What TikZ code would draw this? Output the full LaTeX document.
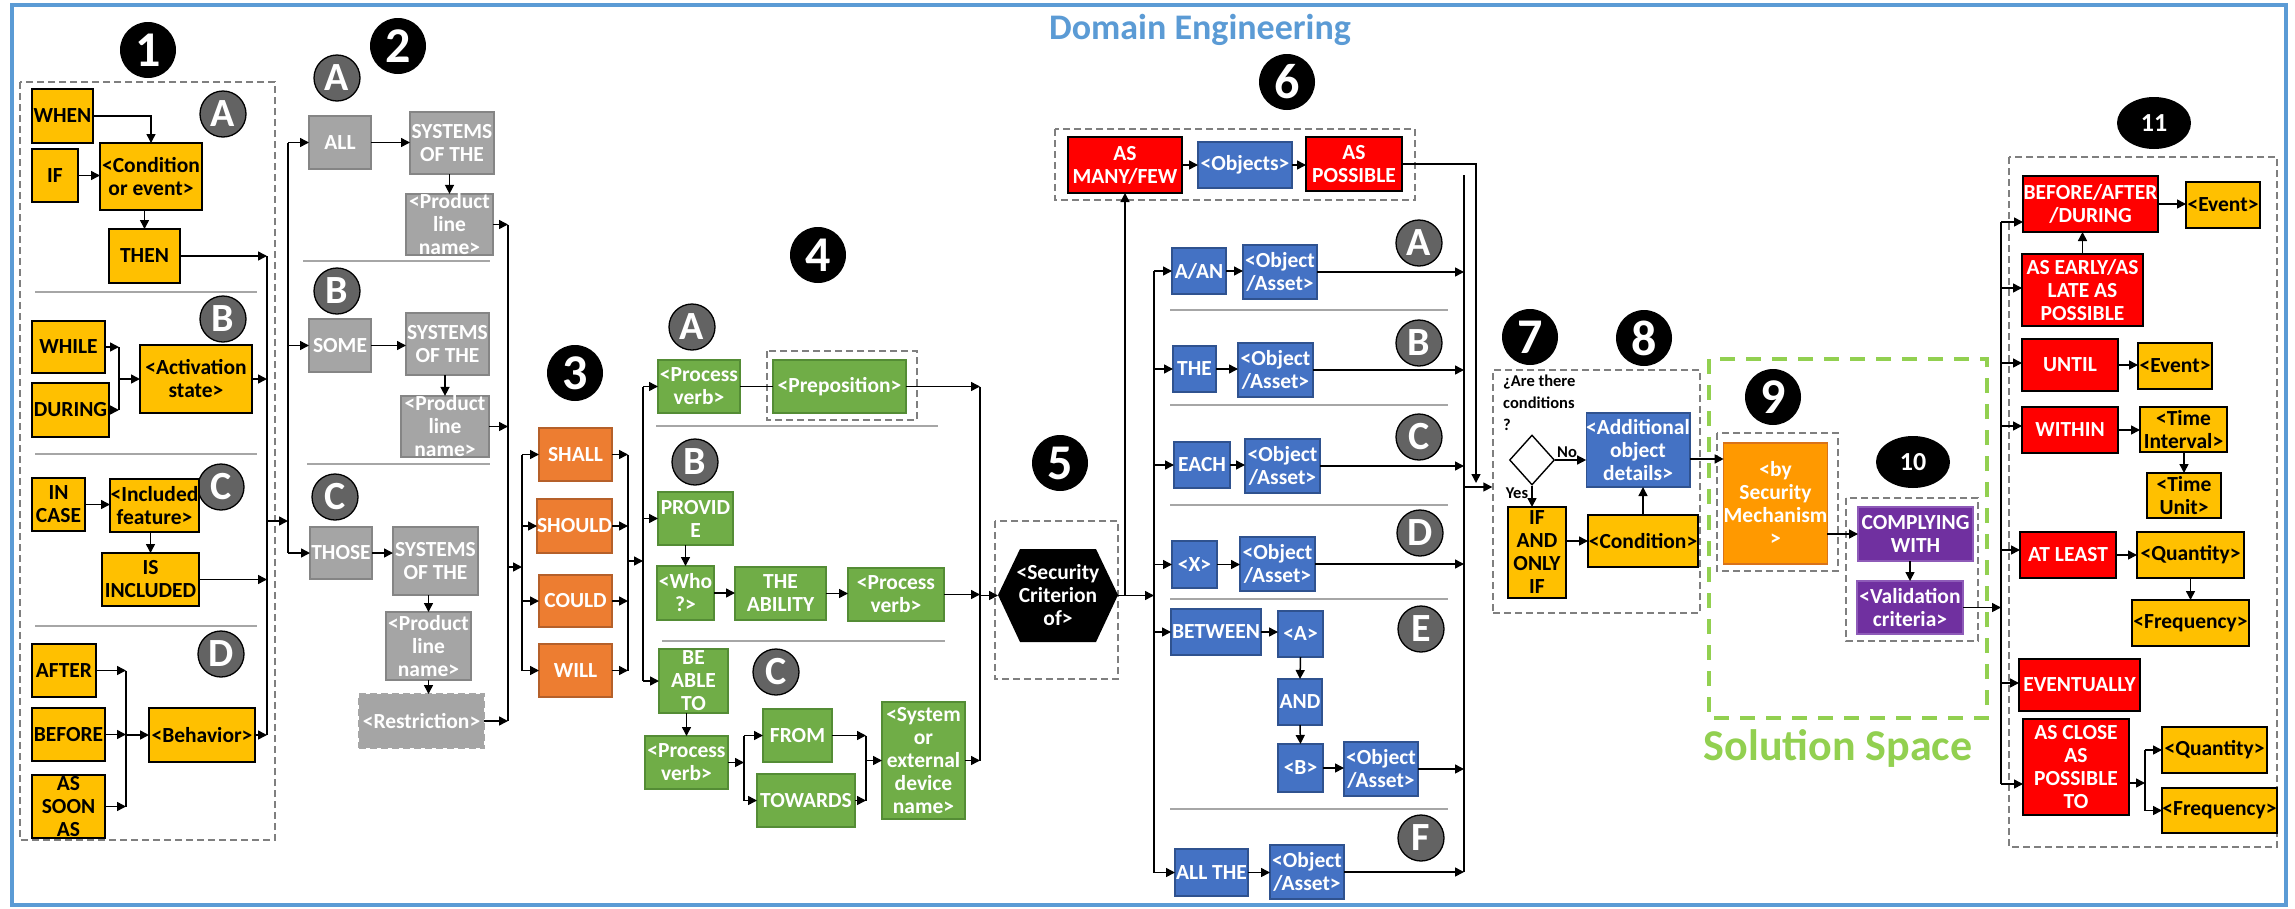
\documentclass[tikz,border=0pt]{standalone}
\usepackage{fontspec}
\setmainfont{Carlito}
\usetikzlibrary{arrows.meta,shapes.geometric,calc}
\definecolor{yel}{HTML}{FFC000}
\definecolor{gryf}{HTML}{A5A5A5}
\definecolor{gryd}{HTML}{858585}
\definecolor{orngf}{HTML}{ED7D31}
\definecolor{orngd}{HTML}{B5602A}
\definecolor{grnf}{HTML}{70AD47}
\definecolor{grnd}{HTML}{548C35}
\definecolor{bluf}{HTML}{4472C4}
\definecolor{blud}{HTML}{2F528F}
\definecolor{redf}{HTML}{FF0000}
\definecolor{purf}{HTML}{7030A0}
\definecolor{purd}{HTML}{8E5BB8}
\definecolor{secf}{HTML}{FF9900}
\definecolor{secd}{HTML}{D9731A}
\definecolor{letf}{HTML}{636363}
\definecolor{dgray}{HTML}{7F7F7F}
\definecolor{sepc}{HTML}{A6A6A6}
\definecolor{frameblue}{HTML}{5B9BD5}
\definecolor{solgreen}{HTML}{92D050}
\newcommand\bx[7]{\node[#6,minimum width={(#4)-(#2)},minimum height={(#5)-(#3)}] (#1) at ({((#2)+(#4))/2},{((#3)+(#5))/2}) {#7};}
\tikzset{
 bxbase/.style={inner sep=0pt, outer sep=0pt, align=center, line width=1.3pt},
 yb/.style={bxbase, fill=yel, draw=black, text=black},
 ybt/.style={yb, line width=2.6pt},
 gb/.style={bxbase, fill=gryf, draw=gryd, text=white},
 ob/.style={bxbase, fill=orngf, draw=orngd, text=white},
 gn/.style={bxbase, fill=grnf, draw=grnd, text=white},
 bl/.style={bxbase, fill=bluf, draw=blud, text=white},
 rd/.style={bxbase, fill=redf, draw=black, text=white},
 pu/.style={bxbase, fill=purf, draw=purd, text=white},
 dbox/.style={draw=dgray, line width=1.4pt, dash pattern=on 7pt off 4pt},
 arr/.style={line width=1.5pt, -{Triangle[length=9pt,width=9pt]}},
 ln/.style={line width=1.5pt},
 sepl/.style={draw=sepc, line width=2pt},
 numc/.style={circle, fill=black, text=white, minimum size=56pt, inner sep=0pt, font=\fontsize{50}{50}\selectfont\bfseries},
 nume/.style={ellipse, fill=black, text=white, minimum width=74pt, minimum height=52pt, inner sep=0pt, font=\fontsize{26}{26}\selectfont\bfseries},
 letc/.style={circle, fill=letf, draw=black, line width=1.3pt, text=white, minimum size=46pt, inner sep=0pt, font=\fontsize{40}{40}\selectfont\bfseries},
}
\begin{document}
\begin{tikzpicture}[x=1pt,y=-1pt,font=\fontsize{21.5}{23}\selectfont\bfseries]
\useasboundingbox (0,0) rectangle (2295,908);
\fill[white] (0,0) rectangle (2295,908);
\draw[frameblue, line width=4pt] (12,5) rectangle (2286,905);
\node[text=frameblue, font=\fontsize{36}{36}\selectfont\bfseries] (title) at (1200,30) {Domain Engineering};
\node[text=solgreen, font=\fontsize{44}{44}\selectfont\bfseries] (soltitle) at (1838,748) {Solution Space};

% ---------- Section 1
\draw[dbox] (20,82) rectangle (275,840);
\node[numc] (n1) at (148,50) {1};
\node[letc] (l1a) at (223,114) {A};
\node[letc] (l1b) at (223,319) {B};
\node[letc] (l1c) at (221,487) {C};
\node[letc] (l1d) at (221,654) {D};
\draw[sepl] (35,292) -- (257,292);
\draw[sepl] (35,454) -- (257,454);
\draw[sepl] (35,626) -- (257,626);
\bx{WHEN}{32}{89}{93}{143}{yb}{WHEN}
\bx{IF}{32}{149}{78}{202}{yb}{IF}
\bx{COND}{100}{143}{202}{210}{ybt}{<Condition\\or event>}
\bx{THEN}{109}{229}{180}{283}{yb}{THEN}
\bx{WHILE}{32}{321}{105}{373}{yb}{WHILE}
\bx{DURING}{32}{383}{109}{437}{yb}{DURING}
\bx{ACT}{140}{345}{252}{413}{ybt}{<Activation\\state>}
\bx{INCASE}{32}{478}{85}{531}{yb}{IN\\CASE}
\bx{INCL}{110}{479}{199}{532}{ybt}{<Included\\feature>}
\bx{ISINC}{102}{553}{199}{606}{yb}{IS\\INCLUDED}
\bx{AFTER}{32}{644}{96}{697}{yb}{AFTER}
\bx{BEFORE}{32}{708}{105}{761}{yb}{BEFORE}
\bx{ASSOON}{32}{775}{105}{838}{yb}{AS\\SOON\\AS}
\bx{BEH}{149}{708}{255}{762}{ybt}{<Behavior>}
\coordinate (busA) at (267,256);
\coordinate (busAb) at (267,735);
\coordinate (jA) at (119,0);
\coordinate (jB) at (126,0);
\draw[ln] (busA) -- (busAb);
\draw[arr] (WHEN.east) -| (COND.north);
\draw[arr] (IF.east) -- (IF.east -| COND.west);
\draw[arr] (COND.south -| THEN.north) -- (THEN.north);
\draw[arr] (THEN.east) -- (THEN.east -| busA);
\draw[arr] (WHILE.east) -- (WHILE.east -| jA);
\draw[arr] (DURING.east) -- (DURING.east -| jA);
\draw[ln] (WHILE.east -| jA) -- (DURING.east -| jA);
\draw[arr] (ACT.west -| jA) -- (ACT.west);
\draw[arr] (ACT.east) -- (ACT.east -| busA);
\draw[arr] (INCASE.east) -- (INCASE.east -| INCL.west);
\draw[arr] (INCL.south -| ISINC.north) -- (ISINC.north);
\draw[arr] (ISINC.east) -- (ISINC.east -| busA);
\draw[arr] (AFTER.east) -- (AFTER.east -| jB);
\draw[arr] (BEFORE.east) -- (BEFORE.east -| jB);
\draw[arr] (ASSOON.east) -- (ASSOON.east -| jB);
\draw[ln] (AFTER.east -| jB) -- (ASSOON.east -| jB);
\draw[arr] (BEH.west -| jB) -- (BEH.west);
\draw[arr] (BEH.east) -- (BEH.east -| busA);

% ---------- Section 2
\node[numc] (n2) at (398,46) {2};
\node[letc] (l2a) at (337,78) {A};
\node[letc] (l2b) at (337,291) {B};
\node[letc] (l2c) at (335,497) {C};
\draw[sepl] (303,261) -- (490,261);
\draw[sepl] (307,464) -- (490,464);
\bx{ALL}{309}{116}{371}{169}{gb}{ALL}
\bx{SYS1}{410}{112}{494}{174}{gb}{SYSTEMS\\OF THE}
\bx{PLN1}{406}{194}{493}{255}{gb}{<Product\\line\\name>}
\bx{SOME}{309}{319}{371}{372}{gb}{SOME}
\bx{SYS2}{406}{313}{489}{375}{gb}{SYSTEMS\\OF THE}
\bx{PLN2}{401}{396}{489}{457}{gb}{<Product\\line\\name>}
\bx{THOSE}{310}{527}{372}{579}{gb}{THOSE}
\bx{SYS3}{393}{527}{478}{595}{gb}{SYSTEMS\\OF THE}
\bx{PLN3}{386}{612}{471}{680}{gb}{<Product\\line\\name>}
\bx{RESTR}{359}{694}{484}{748}{gb,draw=sepc,dash pattern=on 7pt off 4pt}{<Restriction>}
\coordinate (m12) at (267,521);
\coordinate (busB) at (288,0);
\draw[arr] (m12) -- (m12 -| busB);
\draw[ln] (ALL.west -| busB) -- (THOSE.west -| busB);
\draw[arr] (ALL.west -| busB) -- (ALL.west);
\draw[arr] (SOME.west -| busB) -- (SOME.west);
\draw[arr] (THOSE.west -| busB) -- (THOSE.west);
\draw[arr] (ALL.east) -- (ALL.east -| SYS1.west);
\draw[arr] (SOME.east) -- (SOME.east -| SYS2.west);
\draw[arr] (THOSE.east) -- (THOSE.east -| SYS3.west);
\draw[arr] (SYS1.south -| PLN1.north) -- (PLN1.north);
\draw[arr] (SYS2.south -| PLN2.north) -- (PLN2.north);
\draw[arr] (SYS3.south -| PLN3.north) -- (PLN3.north);
\draw[arr] (PLN3.south) -- (PLN3.south |- RESTR.north);
\coordinate (busC) at (508,0);
\draw[arr] (PLN1.east) -- (PLN1.east -| busC);
\draw[arr] (PLN2.east) -- (PLN2.east -| busC);
\draw[arr] (RESTR.east) -- (RESTR.east -| busC);
\draw[ln] (PLN1.east -| busC) -- (RESTR.east -| busC);

% ---------- Section 3
\node[numc] (n3) at (575,373) {3};
\bx{SHALL}{539}{428}{612}{481}{ob}{SHALL}
\bx{SHOULD}{538}{499}{611}{553}{ob}{SHOULD}
\bx{COULD}{539}{575}{612}{627}{ob}{COULD}
\bx{WILL}{539}{644}{612}{697}{ob}{WILL}
\coordinate (m23) at (508,567);
\coordinate (busD) at (522,0);
\coordinate (busE) at (628,0);
\coordinate (m34) at (628,561);
\coordinate (busF) at (643,0);
\draw[arr] (m23) -- (m23 -| busD);
\draw[ln] (SHALL.west -| busD) -- (WILL.west -| busD);
\foreach \n in {SHALL,SHOULD,COULD,WILL}{
 \draw[arr] (\n.west -| busD) -- (\n.west);
 \draw[arr] (\n.east) -- (\n.east -| busE);
}
\draw[ln] (SHALL.east -| busE) -- (WILL.east -| busE);
\draw[arr] (m34) -- (m34 -| busF);

% ---------- Section 4
\node[numc] (n4) at (818,255) {4};
\node[letc] (l4a) at (692,327) {A};
\node[letc] (l4b) at (695,462) {B};
\node[letc] (l4c) at (776,672) {C};
\draw[sepl] (656,426) -- (938,426);
\draw[sepl] (662,641) -- (945,641);
\draw[dbox] (767,351) rectangle (917,420);
\bx{PV1}{658}{360}{740}{413}{gn}{<Process\\verb>}
\bx{PREP}{773}{360}{906}{413}{gn}{<Preposition>}
\bx{PROVIDE}{658}{492}{733}{545}{gn}{PROVID\\E}
\bx{WHO}{657}{566}{714}{620}{gn}{<Who\\?>}
\bx{ABIL}{735}{567}{826}{620}{gn}{THE\\ABILITY}
\bx{PV2}{848}{568}{944}{621}{gn}{<Process\\verb>}
\bx{BEABLE}{659}{649}{728}{713}{gn}{BE\\ABLE\\TO}
\bx{PV3}{645}{736}{728}{789}{gn}{<Process\\verb>}
\bx{FROM}{763}{709}{832}{762}{gn}{FROM}
\bx{TOW}{757}{774}{855}{827}{gn}{TOWARDS}
\bx{SYSN}{882}{702}{965}{819}{gn}{<System\\or\\external\\device\\name>}
\draw[ln] (PV1.west -| busF) -- (BEABLE.west -| busF);
\draw[arr] (PV1.west -| busF) -- (PV1.west);
\draw[arr] (PROVIDE.west -| busF) -- (PROVIDE.west);
\draw[arr] (BEABLE.west -| busF) -- (BEABLE.west);
\draw[ln] (PV1.east) -- (PREP.west);
\coordinate (busG) at (980,0);
\draw[arr] (PREP.east) -- (PREP.east -| busG);
\draw[arr] (PROVIDE.south -| WHO.north) -- (WHO.north);
\draw[arr] (WHO.east) -- (WHO.east -| ABIL.west);
\draw[arr] (ABIL.east) -- (ABIL.east -| PV2.west);
\draw[arr] (PV2.east) -- (PV2.east -| busG);
\draw[arr] (BEABLE.south -| PV3.north) -- (PV3.north);
\coordinate (jC) at (744,0);
\coordinate (jD) at (866,0);
\draw[arr] (PV3.east) -- (PV3.east -| jC);
\draw[ln] (FROM.west -| jC) -- (TOW.west -| jC);
\draw[arr] (FROM.west -| jC) -- (FROM.west);
\draw[arr] (TOW.west -| jC) -- (TOW.west);
\draw[arr] (FROM.east) -- (FROM.east -| jD);
\draw[arr] (TOW.east) -- (TOW.east -| jD);
\draw[ln] (FROM.east -| jD) -- (TOW.east -| jD);
\draw[arr] (SYSN.west -| jD) -- (SYSN.west);
\draw[arr] (SYSN.east) -- (SYSN.east -| busG);
\draw[ln] (PREP.east -| busG) -- (SYSN.east -| busG);

% ---------- Section 5
\draw[dbox] (995,521) rectangle (1118,679);
\node[numc] (n5) at (1060,463) {5};
\fill[black] (998,595) -- (1020,549) -- (1096,549) -- (1118,595) -- (1096,642) -- (1020,642) -- cycle;
\bx{HEX}{998}{549}{1118}{642}{bxbase,text=white}{<Security\\Criterion\\of>}
\draw[arr] (HEX.west -| busG) -- (HEX.west);

% ---------- Section 6
\node[numc] (n6) at (1287,82) {6};
\draw[dbox] (1055,129) rectangle (1415,200);
\bx{AMF}{1068}{137}{1182}{193}{rd}{AS\\MANY/FEW}
\bx{OBJS}{1198}{142}{1292}{188}{bl}{<Objects>}
\bx{ASP}{1306}{137}{1402}{191}{rd}{AS\\POSSIBLE}
\node[letc] (l6a) at (1419,243) {A};
\node[letc] (l6b) at (1419,343) {B};
\node[letc] (l6c) at (1419,437) {C};
\node[letc] (l6d) at (1420,533) {D};
\node[letc] (l6e) at (1421,629) {E};
\node[letc] (l6f) at (1421,838) {F};
\foreach \yy in {310,405,505,599,809}{\draw[sepl] (1170,\yy) -- (1448,\yy);}
\bx{AAN}{1172}{248}{1226}{294}{bl}{A/AN}
\bx{OA}{1243}{245}{1317}{299}{bl}{<Object\\/Asset>}
\bx{THE}{1173}{346}{1216}{392}{bl}{THE}
\bx{OB}{1238}{343}{1313}{397}{bl}{<Object\\/Asset>}
\bx{EACH}{1174}{442}{1230}{488}{bl}{EACH}
\bx{OC}{1245}{439}{1320}{493}{bl}{<Object\\/Asset>}
\bx{XX}{1172}{541}{1217}{588}{bl}{<X>}
\bx{OD}{1240}{537}{1315}{591}{bl}{<Object\\/Asset>}
\bx{BETW}{1171}{609}{1261}{655}{bl}{BETWEEN}
\bx{AA}{1278}{611}{1323}{657}{bl}{<A>}
\bx{AND}{1278}{679}{1322}{725}{bl}{AND}
\bx{BB}{1278}{744}{1323}{792}{bl}{<B>}
\bx{OE}{1344}{742}{1418}{796}{bl}{<Object\\/Asset>}
\bx{ALLTHE}{1175}{849}{1248}{896}{bl}{ALL THE}
\bx{OF}{1270}{845}{1344}{899}{bl}{<Object\\/Asset>}
\coordinate (busH) at (1154,0);
\draw[arr] (HEX.east) -- (HEX.east -| busH);
\draw[arr] (HEX.east -| AMF.south) -- (AMF.south);
\draw[ln] (AAN.west -| busH) -- (ALLTHE.west -| busH);
\foreach \n in {AAN,THE,EACH,XX,BETW,ALLTHE}{\draw[arr] (\n.west -| busH) -- (\n.west);}
\draw[arr] (AMF.east) -- (AMF.east -| OBJS.west);
\draw[arr] (OBJS.east) -- (OBJS.east -| ASP.west);
\draw[arr] (AAN.east) -- (AAN.east -| OA.west);
\draw[arr] (THE.east) -- (THE.east -| OB.west);
\draw[arr] (EACH.east) -- (EACH.east -| OC.west);
\draw[arr] (XX.east) -- (XX.east -| OD.west);
\draw[arr] (BETW.east) -- (BETW.east -| AA.west);
\draw[arr] (AA.south) -- (AND.north);
\draw[arr] (AND.south) -- (BB.north);
\draw[arr] (BB.east) -- (BB.east -| OE.west);
\draw[arr] (ALLTHE.east) -- (ALLTHE.east -| OF.west);
\coordinate (busI) at (1464,175);
\draw[ln] (busI) -- (OF.east -| busI);
\foreach \n in {OA,OB,OC,OD,OE,OF}{\draw[arr] (\n.east) -- (\n.east -| busI);}
\coordinate (c6) at (1476,483);
\draw[arr] (ASP.east) -| (c6);

% ---------- Section 7 / 8
\node[numc] (n7) at (1530,337) {7};
\node[numc] (n8) at (1644,338) {8};
\bx{box7}{1493}{370}{1700}{613}{dbox}{}
\coordinate (c6L) at (1464,487);
\draw[arr] (c6L) -- (c6L -| box7.west);
\node[anchor=north west, align=left, inner sep=0pt, font=\fontsize{16.5}{22}\selectfont\bfseries] (question) at (1503,375) {¿Are there\\conditions\\?};
\node[diamond, draw=black, fill=white, line width=1.4pt, minimum width=45pt, minimum height=50pt, inner sep=0pt] (DIA) at (1532,460) {};
\node[font=\fontsize{16.5}{16}\selectfont\bfseries] (nolab) at (1567,452) {No};
\node[font=\fontsize{16.5}{16}\selectfont\bfseries] (yeslab) at (1517,493) {Yes};
\bx{ADD}{1588}{413}{1688}{487}{bl}{<Additional\\object\\details>}
\bx{IFF}{1508}{507}{1566}{598}{yb}{IF\\AND\\ONLY\\IF}
\bx{CONDN}{1588}{515}{1698}{567}{ybt}{<Condition>}
\draw[arr] (DIA.east) -- (DIA.east -| ADD.west);
\draw[arr] (DIA.south) -- (DIA.south |- IFF.north);
\draw[arr] (IFF.east |- CONDN.west) -- (CONDN.west);
\draw[arr] (CONDN.north) -- (CONDN.north |- ADD.south);

% ---------- Section 9 / 10
\draw[solgreen, line width=4pt, dash pattern=on 15pt off 11pt] (1709,359) rectangle (1987,718);
\node[numc] (n9) at (1773,397) {9};
\draw[dbox] (1717,433) rectangle (1838,571);
\bx{SEC}{1724}{443}{1827}{564}{bxbase,fill=secf,draw=secd,text=white}{<by\\Security\\Mechanism\\>}
\draw[arr] ($(ADD.east)+(0,9)$) -- ($(ADD.east -| SEC.west)+(0,9)$);
\node[nume] (n10) at (1913,462) {10};
\draw[dbox] (1846,498) rectangle (1978,641);
\bx{COMP}{1858}{507}{1973}{561}{pu}{COMPLYING\\WITH}
\bx{VAL}{1857}{581}{1963}{634}{pu}{<Validation\\criteria>}
\draw[arr] (SEC.east |- COMP.west) -- (COMP.west);
\draw[arr] (COMP.south -| VAL.north) -- (VAL.north);

% ---------- Section 11
\node[nume] (n11) at (2154,123) {11};
\draw[dbox] (2009,157) rectangle (2277,847);
\bx{BAD}{2023}{176}{2158}{232}{rd}{BEFORE/AFTER\\/DURING}
\bx{EV1}{2186}{182}{2260}{228}{yb}{<Event>}
\bx{AEL}{2022}{254}{2143}{326}{rd}{AS EARLY/AS\\LATE AS\\POSSIBLE}
\bx{UNTIL}{2022}{339}{2118}{391}{rd}{UNTIL}
\bx{EV2}{2138}{343}{2212}{389}{yb}{<Event>}
\bx{WITHIN}{2022}{407}{2118}{453}{rd}{WITHIN}
\bx{TI}{2140}{407}{2227}{452}{yb}{<Time\\Interval>}
\bx{TU}{2147}{473}{2221}{518}{yb}{<Time\\Unit>}
\bx{ATL}{2020}{532}{2116}{578}{rd}{AT LEAST}
\bx{Q1}{2137}{532}{2244}{578}{yb}{<Quantity>}
\bx{FR1}{2132}{600}{2249}{646}{yb}{<Frequency>}
\bx{EVENT}{2019}{659}{2140}{711}{rd}{EVENTUALLY}
\bx{ACL}{2023}{719}{2129}{815}{rd}{AS CLOSE\\AS\\POSSIBLE\\TO}
\bx{Q2}{2162}{727}{2267}{773}{yb}{<Quantity>}
\bx{FR2}{2162}{788}{2277}{833}{yb}{<Frequency>}
\coordinate (k1) at (2001,222);
\coordinate (k2) at (2001,288);
\coordinate (k3) at (2001,363);
\coordinate (k4) at (2001,426);
\coordinate (k5) at (2001,550);
\coordinate (k6) at (2001,683);
\coordinate (k7) at (2001,784);
\draw[ln] (k1) -- (k7);
\draw[arr] (VAL.east) -- (VAL.east -| k1);
\draw[arr] (k1) -- (k1 -| BAD.west);
\draw[arr] (k2) -- (k2 -| AEL.west);
\draw[arr] (k3) -- (k3 -| UNTIL.west);
\draw[arr] (k4) -- (k4 -| WITHIN.west);
\draw[arr] (k5) -- (k5 -| ATL.west);
\draw[arr] (k6) -- (k6 -| EVENT.west);
\draw[arr] (k7) -- (k7 -| ACL.west);
\draw[arr] (BAD.east) -- (BAD.east -| EV1.west);
\draw[arr] (AEL.north) -- (AEL.north |- BAD.south);
\draw[arr] (UNTIL.east) -- (UNTIL.east -| EV2.west);
\draw[arr] (WITHIN.east) -- (WITHIN.east -| TI.west);
\draw[arr] (TI.south -| TU.north) -- (TU.north);
\draw[arr] (ATL.east) -- (ATL.east -| Q1.west);
\draw[arr] (Q1.south) -- (Q1.south |- FR1.north);
\coordinate (jE) at (2145,783);
\draw[arr] (ACL.east |- jE) -- (jE);
\draw[ln] (Q2.west -| jE) -- (FR2.west -| jE);
\draw[arr] (Q2.west -| jE) -- (Q2.west);
\draw[arr] (FR2.west -| jE) -- (FR2.west);
\end{tikzpicture}
\end{document}
